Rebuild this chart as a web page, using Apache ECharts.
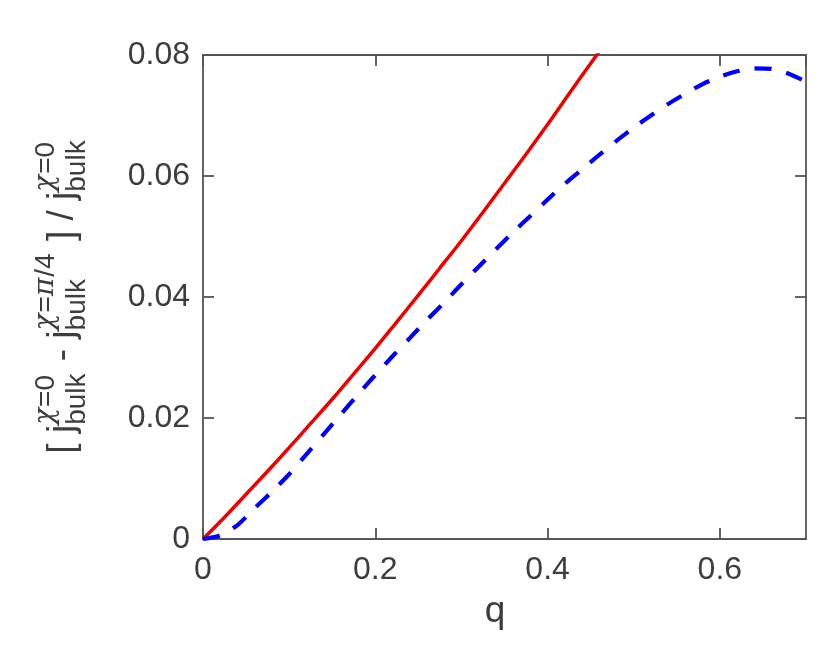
<!DOCTYPE html>
<html>
<head>
<meta charset="utf-8">
<script src="https://cdn.jsdelivr.net/npm/echarts@6/dist/echarts.min.js"></script>
<style>html,body{margin:0;padding:0;background:#fff}#c{width:830px;height:664px}</style>
</head>
<body>
<div id="c"></div>
<script>
// ---- data ----
const qRed = [0, 0.025, 0.05, 0.075, 0.1, 0.125, 0.15, 0.175, 0.2, 0.225, 0.25, 0.275, 0.3, 0.325, 0.35, 0.375, 0.4, 0.425, 0.45, 0.46];
const redVals = [0, 0.0036, 0.0074, 0.0112, 0.0151, 0.0191, 0.0231, 0.0273, 0.0315, 0.0359, 0.0403, 0.0448, 0.0493, 0.0540, 0.0588, 0.0636, 0.0685, 0.0736, 0.0786, 0.0806];
const qBlue = [0, 0.02, 0.04, 0.06, 0.08, 0.1, 0.12, 0.14, 0.16, 0.18, 0.2, 0.22, 0.24, 0.26, 0.28, 0.3, 0.32, 0.34, 0.36, 0.38, 0.4, 0.42, 0.44, 0.46, 0.48, 0.5, 0.52, 0.54, 0.56, 0.58, 0.6, 0.62, 0.64, 0.66, 0.68, 0.7];
const blueVals = [0, 0.0006, 0.0023, 0.0051, 0.0078, 0.0107, 0.0140, 0.0173, 0.0206, 0.0239, 0.0271, 0.0302, 0.0332, 0.0362, 0.0391, 0.0421, 0.0450, 0.0479, 0.0507, 0.0534, 0.0561, 0.0587, 0.0611, 0.0635, 0.0658, 0.0680, 0.0700, 0.0719, 0.0736, 0.0752, 0.0764, 0.0773, 0.0778, 0.0777, 0.0769, 0.0756];
const xTicks = [0, 0.2, 0.4, 0.6];
const yTicks = [0, 0.02, 0.04, 0.06, 0.08];
const xName = 'q';

const TXT = '#3d3d3d', AX = '#555555', FONT = '"Liberation Sans", Arial, sans-serif';
const GREEK = '"DejaVu Serif", serif';
const chart = echarts.init(document.getElementById('c'), null, {renderer: 'canvas'});

function fmt(v) { return v === 0 ? '0' : String(+v.toFixed(3)); }
const axisCommon = {
  axisLine: {show: true, onZero: false, lineStyle: {color: AX, width: 1.8}},
  axisTick: {show: true, inside: true, length: 11, lineStyle: {color: AX, width: 1.8}},
  splitLine: {show: false}
};
const xBase = {type: 'value', min: 0, max: 0.7, interval: 0.2};
const yBase = {type: 'value', min: 0, max: 0.08, interval: 0.02};

// y-axis label built from pieces (rotated group)
const mainSize = 37, scrSize = 28;
const ctx = document.createElement('canvas').getContext('2d');
function w(t, s, fam) { ctx.font = s + 'px ' + (fam || FONT); return ctx.measureText(t).width; }
// sup pieces: [greek-part, rest]
const pieces = [
  {main: '[ j'}, {sup: [['χ', true], ['=0', false]], sub: 'bulk'},
  {main: ' - j'}, {sup: [['χ', true], ['=', false], ['π', true], ['/4', false]], sub: 'bulk'},
  {main: ' ] / j'}, {sup: [['χ', true], ['=0', false]], sub: 'bulk'}
];
const children = [];
let pos = 0;
pieces.forEach(p => {
  if (p.main) {
    children.push({type: 'text', x: pos, y: 63, style: {text: p.main, font: mainSize + 'px ' + FONT, fill: TXT, verticalAlign: 'middle', align: 'left'}});
    pos += w(p.main, mainSize);
  } else {
    let sp = pos;
    p.sup.forEach(([t, g]) => {
      const f = g ? ('italic ' + scrSize + 'px ' + GREEK) : (scrSize + 'px ' + FONT);
      children.push({type: 'text', x: sp, y: 46, style: {text: t, font: f, fill: TXT, verticalAlign: 'middle', align: 'left'}});
      sp += g ? w(t, 'italic ' + scrSize, GREEK) + 1 : w(t, scrSize);
    });
    children.push({type: 'text', x: pos, y: 77, style: {text: p.sub, font: scrSize + 'px ' + FONT, fill: TXT, verticalAlign: 'middle', align: 'left'}});
    pos = Math.max(sp, pos + w(p.sub, scrSize)) + 2;
  }
});
const total = pos;
const centerY = 296;

chart.setOption({
  animation: false,
  backgroundColor: '#ffffff',
  grid: {left: 203, right: 24, top: 55, bottom: 125, containLabel: false},
  xAxis: [
    Object.assign({}, xBase, axisCommon, {position: 'bottom',
      axisLabel: {show: true, color: TXT, fontSize: 32, fontFamily: FONT, margin: 15, showMaxLabel: false,
        formatter: v => xTicks.some(t => Math.abs(t - v) < 1e-9) ? fmt(v) : ''}}),
    Object.assign({}, xBase, axisCommon, {position: 'top', axisLabel: {show: false}})
  ],
  yAxis: [
    Object.assign({}, yBase, axisCommon, {position: 'left',
      axisLabel: {show: true, color: TXT, fontSize: 32, fontFamily: FONT, margin: 13,
        formatter: v => yTicks.some(t => Math.abs(t - v) < 1e-9) ? fmt(v) : ''}}),
    Object.assign({}, yBase, axisCommon, {position: 'right', axisLabel: {show: false}})
  ],
  series: [
    {type: 'line', xAxisIndex: 0, yAxisIndex: 0, showSymbol: false, smooth: 0.3, clip: true,
      data: qRed.map((q, i) => [q, redVals[i]]),
      lineStyle: {color: '#ee0000', width: 3.5}},
    {type: 'line', xAxisIndex: 0, yAxisIndex: 0, showSymbol: false, smooth: 0.3, clip: true,
      data: qBlue.map((q, i) => [q, blueVals[i]]),
      lineStyle: {color: '#0000ee', width: 4.2, type: [17, 15]}}
  ],
  graphic: [
    {type: 'text', x: 495, y: 612, style: {text: xName, font: mainSize + 'px ' + FONT, fill: TXT, align: 'center', verticalAlign: 'middle'}},
    {type: 'group', x: 0, y: centerY + total / 2, rotation: Math.PI / 2, children: children}
  ]
});
</script>
</body>
</html>
